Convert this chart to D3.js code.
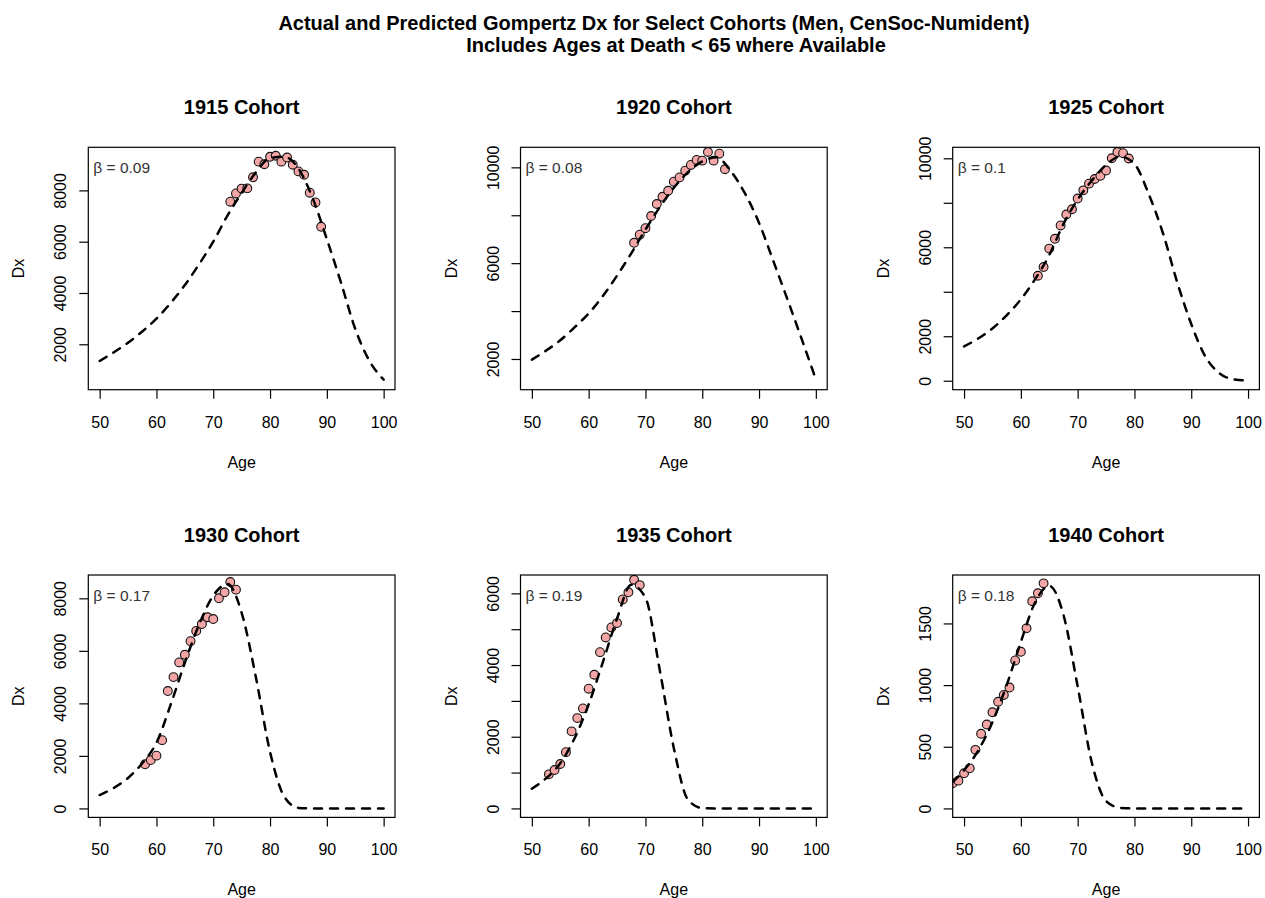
<!DOCTYPE html>
<html><head><meta charset="utf-8">
<script src="https://cdn.jsdelivr.net/npm/d3@7"></script>
<style>
body{margin:0;background:#fff}
svg{display:block}
text{font-family:"Liberation Sans",Arial,Helvetica,sans-serif}
</style>
</head><body>
<svg id="chart" width="1265" height="898"></svg>
<script>
// ---------------- data ----------------
const titleLines = ["Actual and Predicted Gompertz Dx for Select Cohorts (Men, CenSoc-Numident)",
                    "Includes Ages at Death < 65 where Available"];
const cohorts = ["1915", "1920", "1925", "1930", "1935", "1940"];
const betas = ["0.09", "0.08", "0.1", "0.17", "0.19", "0.18"];

const ages1915 = [73,74,75,76,77,78,79,80,81,82,83,84,85,86,87,88,89];
const dx1915   = [7560,7880,8070,8080,8510,9120,9020,9310,9350,9120,9280,9000,8740,8610,7910,7530,6580];
const ages1920 = [68,69,70,71,72,73,74,75,76,77,78,79,80,81,82,83,84];
const dx1920   = [6850,7190,7460,7970,8470,8770,9020,9400,9580,9860,10100,10310,10280,10640,10280,10570,9920];
const ages1925 = [63,64,65,66,67,68,69,70,71,72,73,74,75,76,77,78,79];
const dx1925   = [4720,5110,5940,6380,6980,7470,7710,8190,8560,8860,9070,9210,9450,10000,10280,10230,9990];
const ages1930 = [58,59,60,61,62,63,64,65,66,67,68,69,70,71,72,73,74];
const dx1930   = [1680,1840,2010,2600,4470,5000,5560,5850,6370,6760,7020,7280,7210,8000,8230,8620,8330];
const ages1935 = [53,54,55,56,57,58,59,60,61,62,63,64,65,66,67,68,69];
const dx1935   = [950,1070,1240,1570,2150,2520,2790,3340,3730,4360,4770,5050,5170,5830,6030,6380,6230];
const ages1940 = [48,49,50,51,52,53,54,55,56,57,58,59,60,61,62,63,64];
const dx1940   = [205,225,285,325,475,605,680,780,865,920,980,1200,1270,1460,1680,1745,1825];

// predicted Gompertz Dx
const predAges     = [50,52.5,55,57.5,60,62.5,65,67.5,70,72.5,75,77.5,80,82.5,85,87.5,90,92.5,95,97.5,100];
const predAges1940 = [48,50,52.5,55,57.5,60,62.5,65,67.5,70,72.5,75,77.5,80,82.5,85,87.5,90,92.5,95,97.5,100];
const pred1915 = [1350,1690,2060,2500,3000,3610,4310,5120,6000,7020,7900,8700,9260,9310,8850,7700,6100,4400,2600,1350,620];
const pred1920 = [1970,2350,2780,3320,3900,4630,5480,6410,7400,8330,9150,9800,10250,10420,9850,8920,7680,6100,4490,2840,1150];
const pred1925 = [1540,1900,2350,2940,3660,4560,5650,7050,8150,9000,9700,10080,9750,8400,6650,4450,2550,1080,330,60,5];
const pred1930 = [510,780,1160,1720,2500,3950,5550,7000,8100,8546,7450,5000,2150,450,20,0,0,0,0,0,0];
const pred1935 = [550,840,1260,1950,2900,4080,5300,6240,5880,3880,1680,240,10,0,0,0,0,0,0,0,0];
const pred1940 = [215,310,470,700,1000,1350,1670,1805,1570,990,370,60,5,0,0,0,0,0,0,0,0,0];

// axis ranges (before R's 4% padding) and ticks
const xLimits = [50, 100];
const xTickValues = [50, 60, 70, 80, 90, 100];
const yLimits = [[580, 9330], [1093, 10462], [0, 10091], [0, 8546], [0, 6262], [0, 1820]];
const yTickValues = [
  [2000, 4000, 6000, 8000],
  [2000, 4000, 6000, 8000, 10000],
  [0, 2000, 4000, 6000, 8000, 10000],
  [0, 2000, 4000, 6000, 8000],
  [0, 1000, 2000, 3000, 4000, 5000, 6000],
  [0, 500, 1000, 1500]
];
const yTickLabels = [
  ["2000", "4000", "6000", "8000"],
  ["2000", "", "6000", "", "10000"],
  ["0", "2000", "", "6000", "", "10000"],
  ["0", "2000", "4000", "6000", "8000"],
  ["0", "", "2000", "", "4000", "", "6000"],
  ["0", "500", "1000", "1500"]
];

const pointAges = [ages1915, ages1920, ages1925, ages1930, ages1935, ages1940];
const pointDx = [dx1915, dx1920, dx1925, dx1930, dx1935, dx1940];
const curveAges = [predAges, predAges, predAges, predAges, predAges, predAges1940];
const curveDx = [pred1915, pred1920, pred1925, pred1930, pred1935, pred1940];

// ---------------- layout ----------------
const colLeft = [88.3, 520.5, 952.7];
const rowTop = [147.3, 575];
const boxW = 306.7, boxH = 242.4;
const FONT = 16, TITLE_FONT = 20;

const svg = d3.select("#chart");
svg.append("rect").attr("width", 1265).attr("height", 898).attr("fill", "#fff");

svg.append("text").attr("x", 654).attr("y", 30).attr("text-anchor", "middle")
  .attr("font-size", TITLE_FONT).attr("font-weight", "bold").attr("fill", "#000").text(titleLines[0]);
svg.append("text").attr("x", 676).attr("y", 52).attr("text-anchor", "middle")
  .attr("font-size", TITLE_FONT).attr("font-weight", "bold").attr("fill", "#000").text(titleLines[1]);

const pad = ([a, b]) => { const r = b - a; return [a - 0.04 * r, b + 0.04 * r]; };

cohorts.forEach((cohort, i) => {
  const col = i % 3, row = Math.floor(i / 3);
  const g = svg.append("g").attr("transform", `translate(${colLeft[col]},${rowTop[row]})`);

  const x = d3.scaleLinear().domain(pad(xLimits)).range([0, boxW]);
  const y = d3.scaleLinear().domain(pad(yLimits[i])).range([boxH, 0]);

  const clipId = "clip" + i;
  g.append("clipPath").attr("id", clipId)
    .append("rect").attr("width", boxW).attr("height", boxH);

  const plot = g.append("g").attr("clip-path", `url(#${clipId})`);

  // observed points
  plot.selectAll("circle").data(pointAges[i].map((a, k) => [a, pointDx[i][k]]))
    .join("circle")
    .attr("cx", d => x(d[0])).attr("cy", d => y(d[1])).attr("r", 4.4)
    .attr("fill", "#f4a6a6").attr("stroke", "#111").attr("stroke-width", 1.1);

  // predicted curve
  const line = d3.line().x(d => x(d[0])).y(d => y(d[1])).curve(d3.curveMonotoneX);
  plot.append("path").datum(curveAges[i].map((a, k) => [a, curveDx[i][k]]))
    .attr("d", line).attr("fill", "none").attr("stroke", "#000")
    .attr("stroke-width", 2.5).attr("stroke-dasharray", "8,8").attr("stroke-linecap", "round");

  // box
  g.append("rect").attr("width", boxW).attr("height", boxH)
    .attr("fill", "none").attr("stroke", "#000").attr("stroke-width", 1.2);

  // x axis
  const xa = g.append("g").attr("transform", `translate(0,${boxH})`)
    .call(d3.axisBottom(x).tickValues(xTickValues).tickSize(9).tickFormat(d3.format("d")));
  xa.select(".domain").remove();
  xa.selectAll(".tick line").attr("stroke", "#000").attr("stroke-width", 1.2);
  xa.selectAll(".tick text").attr("y", 38).attr("dy", 0)
    .attr("font-size", FONT).attr("fill", "#000")
    .attr("font-family", '"Liberation Sans",Arial,sans-serif');

  // y axis
  const ya = g.append("g")
    .call(d3.axisLeft(y).tickValues(yTickValues[i]).tickSize(9).tickFormat((d, k) => yTickLabels[i][k]));
  ya.select(".domain").remove();
  ya.selectAll(".tick line").attr("stroke", "#000").attr("stroke-width", 1.2);
  ya.selectAll(".tick text")
    .attr("x", null).attr("dy", 0).attr("y", 0)
    .attr("transform", "translate(-22,0) rotate(-90)")
    .attr("text-anchor", "middle")
    .attr("font-size", FONT).attr("fill", "#000")
    .attr("font-family", '"Liberation Sans",Arial,sans-serif');

  // axis titles
  g.append("text").attr("x", boxW / 2).attr("y", boxH + 78).attr("text-anchor", "middle")
    .attr("font-size", FONT).attr("fill", "#000").text("Age");
  g.append("text").attr("transform", `translate(-64,${boxH / 2}) rotate(-90)`)
    .attr("text-anchor", "middle").attr("font-size", FONT).attr("fill", "#000").text("Dx");

  // panel title
  g.append("text").attr("x", boxW / 2).attr("y", -33).attr("text-anchor", "middle")
    .attr("font-size", TITLE_FONT).attr("font-weight", "bold").attr("fill", "#000")
    .text(cohort + " Cohort");

  // beta annotation
  g.append("text").attr("x", 5).attr("y", 26).attr("font-size", 15.5).attr("fill", "#333")
    .text("\u03B2 = " + betas[i]);
});
</script>
</body></html>
